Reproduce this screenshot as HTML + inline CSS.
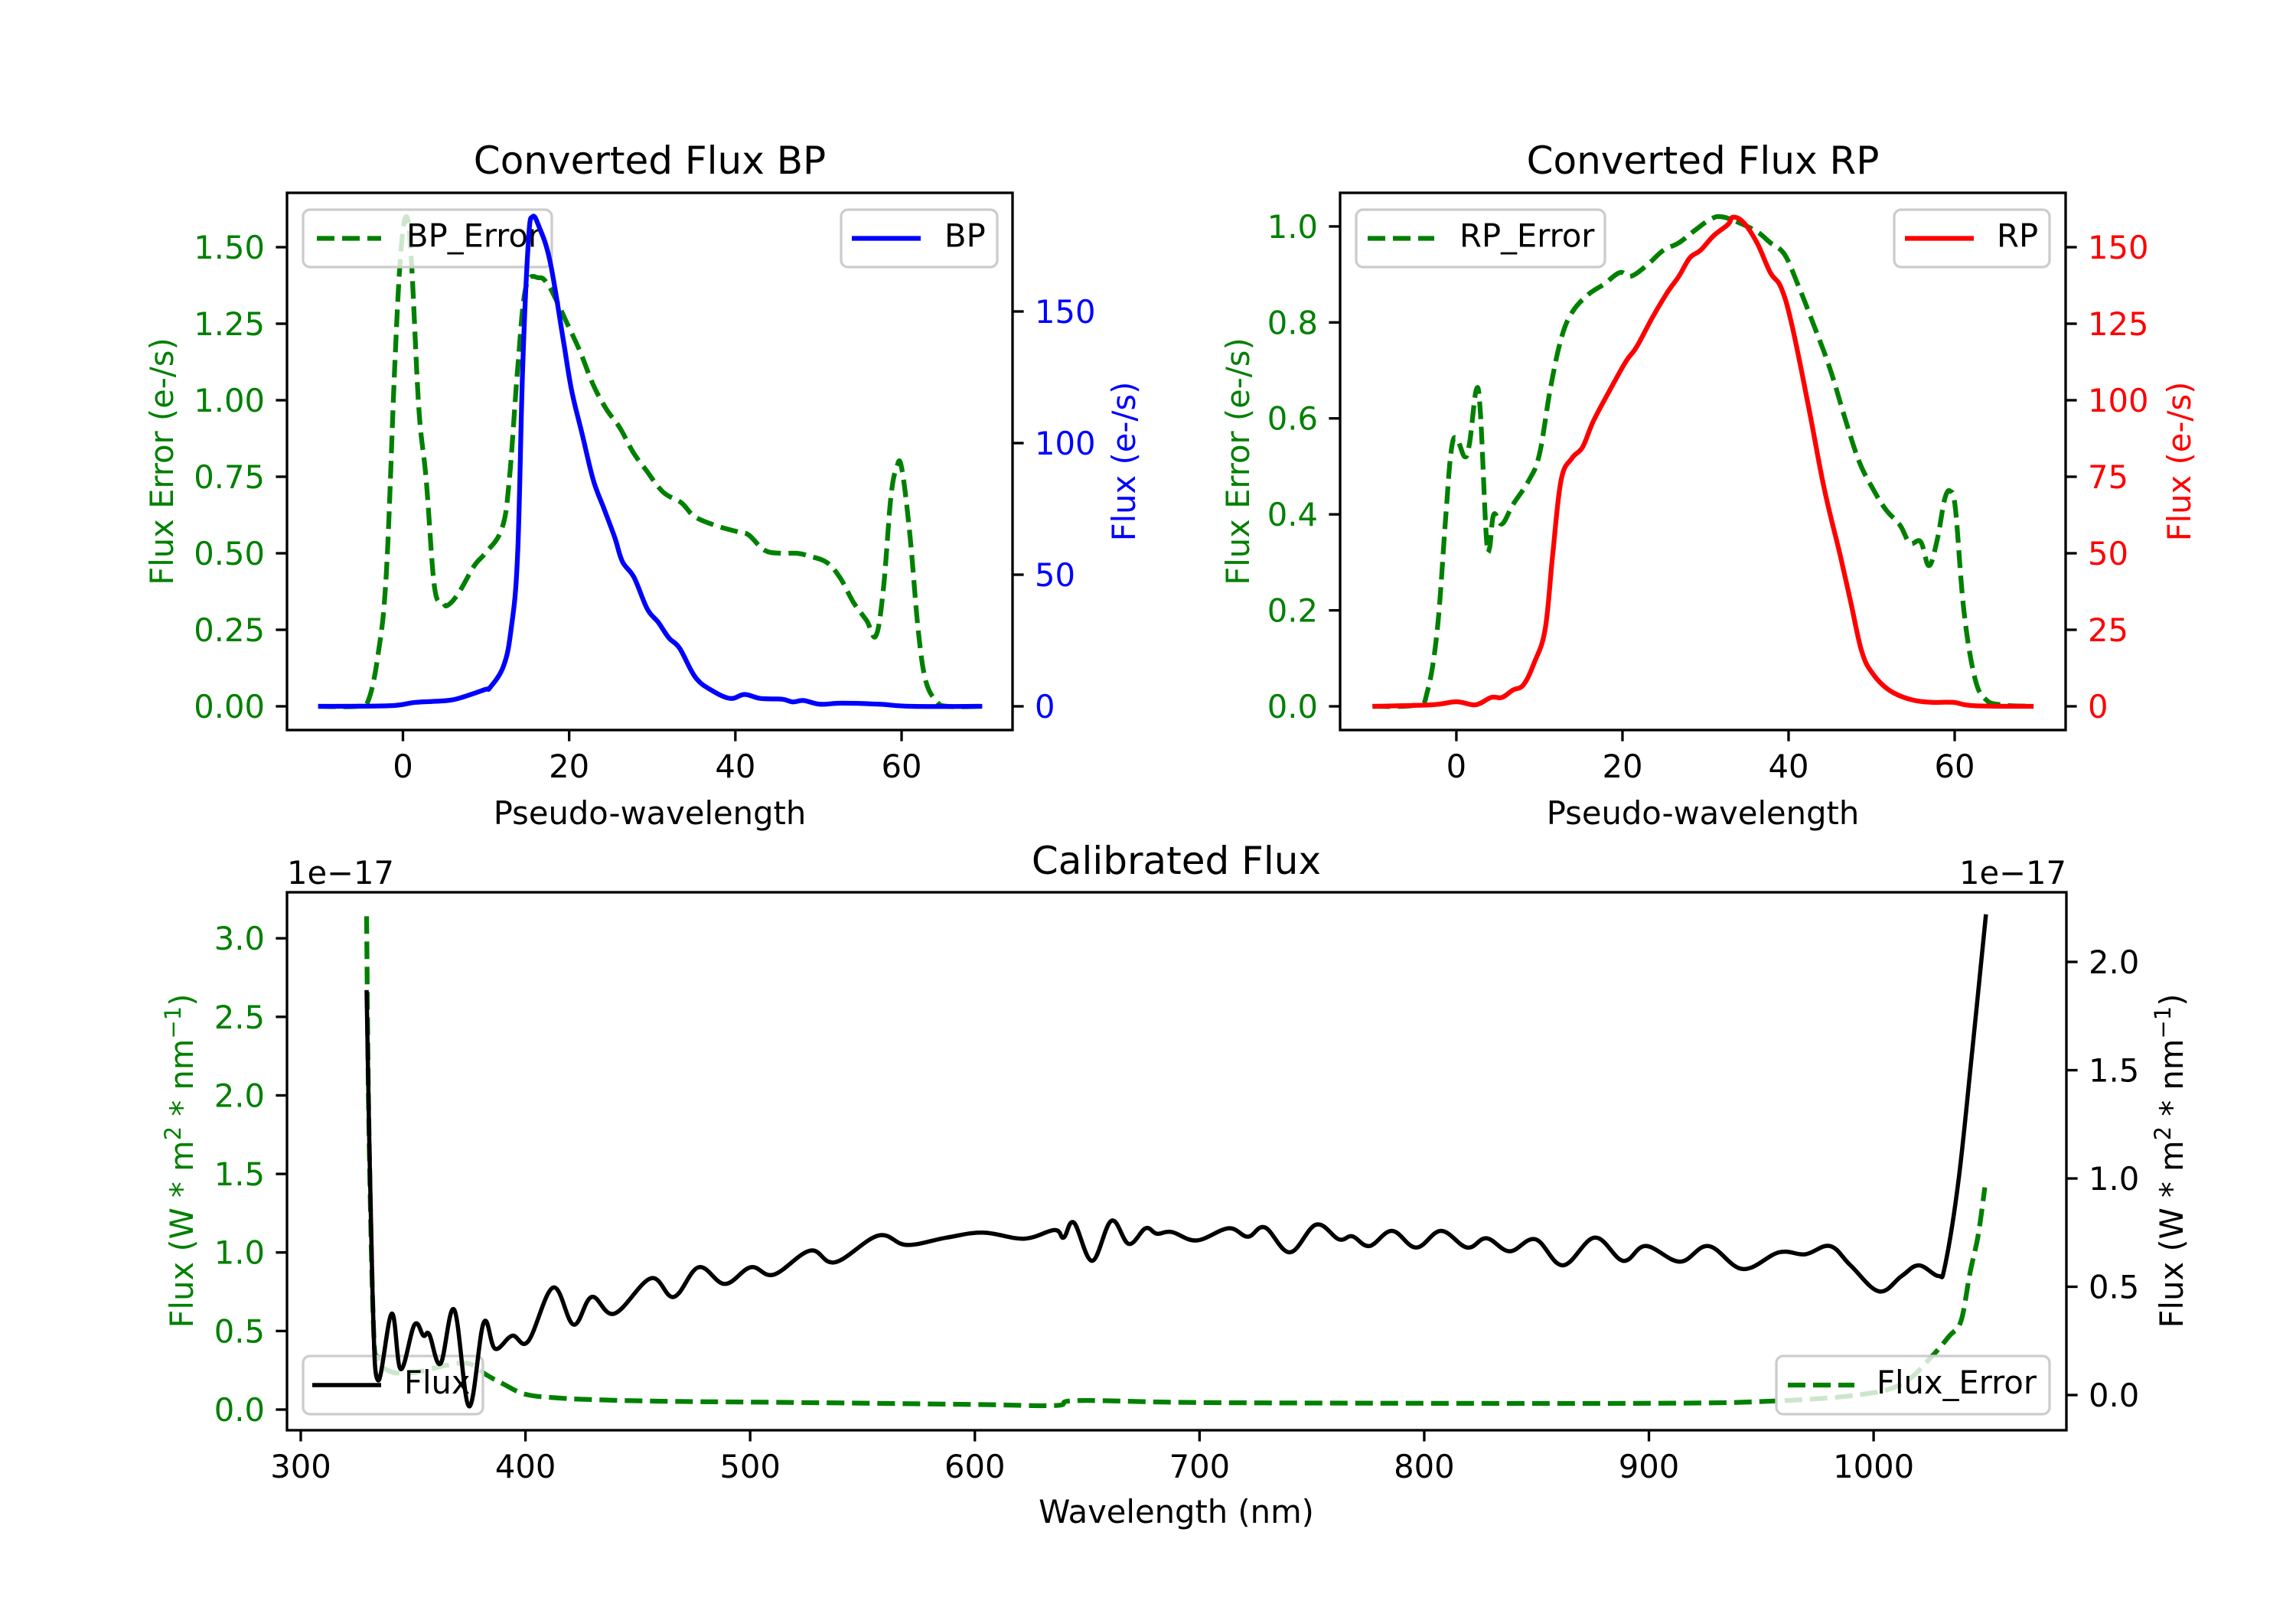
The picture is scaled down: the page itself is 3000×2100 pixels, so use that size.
<!DOCTYPE html>
<html><head><meta charset="utf-8"><style>
html,body{margin:0;padding:0;background:#fff;}
svg{display:block;font-family:"DejaVu Sans","Liberation Sans",sans-serif;}
</style></head><body>
<svg id="fig" xmlns="http://www.w3.org/2000/svg" width="3000" height="2100" viewBox="0 0 3000 2100">
<rect width="3000" height="2100" fill="#fff"/>
<defs>
<clipPath id="c1"><rect x="375" y="252" width="948" height="702"/></clipPath>
<clipPath id="c2"><rect x="1751" y="252" width="948" height="702"/></clipPath>
<clipPath id="c3"><rect x="375" y="1166" width="2325" height="703"/></clipPath>
</defs>
<g id="root"></g>
</svg>
<script>
// ---- BP panel data ----
const bpFluxX=[-10.2,-1.7,1.5,5.4,7.3,9.9,10.5,12.1,13.0,13.8,14.4,15.1,15.6,16.4,17.7,19.3,20.3,21.6,22.9,24.2,25.5,26.4,27.8,29.4,30.7,32.0,33.3,35.2,37.2,39.4,41.1,43.0,45.6,46.9,48.2,50.2,52.8,57.3,61.2,69.7];
const bpFlux=[0,0.2,1.5,2.2,3.6,6.4,7.2,15.3,29,57.6,128,177,186,182,169,139,120,103,86,75,64,55,49,37,32,26,22,11,6,3,4.5,3,2.7,1.7,2.2,0.8,1.2,0.8,0,0];
const bpErrX=[-10.2,-5.5,-4.2,-3.0,-2.0,-1.0,-0.3,0.4,1.0,1.9,2.8,3.8,4.8,5.4,6.7,8.6,9.9,11.9,12.8,13.8,14.8,16.4,17.4,18.4,19.6,21.3,22.9,24.5,26.1,27.7,29.3,31.3,33.5,35.1,37.7,40.3,41.6,43.5,45.5,47.4,49.0,51.0,52.6,54.2,55.8,56.9,57.8,58.7,59.4,60.0,61.0,62.0,62.9,64.2,65.5,69.7];
const bpErr=[0,0,0.017,0.168,0.435,1.10,1.465,1.60,1.465,0.98,0.74,0.39,0.34,0.33,0.37,0.46,0.50,0.58,0.74,1.10,1.37,1.40,1.38,1.33,1.26,1.16,1.05,0.97,0.91,0.83,0.77,0.70,0.665,0.62,0.59,0.57,0.56,0.51,0.50,0.50,0.49,0.47,0.42,0.34,0.28,0.23,0.38,0.68,0.78,0.78,0.56,0.25,0.084,0.017,0,0];
// ---- RP panel data ----
const rpFluxX=[-10.1,-2.9,0,2.3,4.2,5.5,6.8,8.1,9.4,10.7,11.6,12.6,13.9,15.2,16.5,18.4,20.4,21.7,23.6,25.5,26.8,28.1,29.4,31.0,32.7,33.3,34.6,36.2,37.8,39.1,40.4,42.4,44.3,46.2,47.5,48.8,50.1,52.1,54.6,57.2,59.8,62.4,69.5];
const rpFlux=[0,0.5,1.5,0.5,2.9,2.9,5.3,7.1,14.4,25.3,49.6,73.8,81,84.7,93.2,102.9,112.6,117.4,127,135.6,140.5,146.5,149,153.8,157.4,159.8,158,151.4,141.7,136.8,124.6,98,71,49.5,33.8,18,10.8,5.3,2.3,1.3,1.3,0.2,0];
const rpErrX=[-10.1,-4.8,-3.5,-2.3,-1.3,-0.64,0.0,1.0,1.6,2.4,2.9,3.6,4.0,4.5,5.5,6.8,8.7,10.0,11.3,12.6,13.9,15.8,17.8,19.7,21.0,23.0,24.9,26.8,28.8,30.7,32.0,34.0,36.2,37.8,39.5,41.1,43.0,45.0,46.9,48.5,50.1,51.7,53.4,54.6,55.9,56.9,57.9,58.8,59.5,60.1,61.1,62.4,63.7,65.6,69.5];
const rpErr=[0,0.003,0.03,0.16,0.39,0.53,0.56,0.52,0.55,0.66,0.61,0.355,0.33,0.40,0.38,0.42,0.47,0.525,0.66,0.765,0.82,0.857,0.88,0.904,0.896,0.92,0.95,0.966,0.993,1.016,1.02,1.008,0.989,0.966,0.942,0.88,0.796,0.703,0.594,0.51,0.455,0.41,0.378,0.34,0.343,0.293,0.347,0.432,0.448,0.41,0.20,0.061,0.015,0.003,0];
// ---- Calibrated flux data (x in nm, y in 1e-17) ----
const calWl=[329.3,331.9,334.4,340.5,344.5,350.6,354.6,357.2,362.2,368.3,374.9,381.4,386.5,394.1,401.2,412.3,421.4,429.5,439.6,455.8,466.0,477.1,488.7,500.3,510.5,526.7,537.8,557.0,569.7,587.4,603.6,621.8,635.5,639.5,644.1,652.2,660.8,668.5,676.0,681.0,687.6,698.7,712.9,721.5,729.1,740.2,751.9,762.0,768.0,775.6,785.7,796.4,807.5,819.1,827.7,838.0,849.5,861.7,875.9,888.5,898.6,913.8,926.5,941.7,957.9,969.5,980.6,989.7,1002.4,1012.5,1020.1,1028.8,1031.8,1037.8,1043.9,1050.0];
const calFlux=[1.87,0.48,0.068,0.376,0.12,0.325,0.274,0.28,0.145,0.394,-0.052,0.334,0.214,0.274,0.248,0.496,0.325,0.453,0.376,0.539,0.453,0.59,0.513,0.59,0.556,0.667,0.613,0.736,0.693,0.727,0.75,0.722,0.762,0.727,0.796,0.62,0.805,0.698,0.77,0.745,0.753,0.714,0.77,0.731,0.774,0.659,0.787,0.719,0.733,0.688,0.758,0.681,0.758,0.681,0.724,0.664,0.719,0.599,0.727,0.62,0.688,0.616,0.688,0.582,0.659,0.65,0.688,0.599,0.479,0.55,0.599,0.55,0.599,0.993,1.59,2.22];
const calErrWl=[329.3,330.3,332.4,334.4,339.4,349.6,364.8,374.9,382.5,390.1,400.2,415.4,435.6,466.0,521.6,597.5,635.5,645.6,698.7,799.9,901.1,951.9,992.4,1012.5,1025.2,1033.8,1038.9,1042.9,1046.5,1049.5];
const calErr=[3.14,1.815,0.517,0.328,0.245,0.234,0.281,0.293,0.222,0.163,0.097,0.073,0.061,0.052,0.045,0.033,0.026,0.057,0.045,0.04,0.04,0.052,0.092,0.163,0.328,0.47,0.564,0.871,1.107,1.414];
// ---- ticks ----
const pwTicks=[0,20,40,60];
const bpErrTicks=["0.00","0.25","0.50","0.75","1.00","1.25","1.50"];
const bpFluxTicks=[0,50,100,150];
const rpErrTicks=["0.0","0.2","0.4","0.6","0.8","1.0"];
const rpFluxTicks=[0,25,50,75,100,125,150];
const wlTicks=[300,400,500,600,700,800,900,1000];
const calLTicks=["0.0","0.5","1.0","1.5","2.0","2.5","3.0"];
const calRTicks=["0.0","0.5","1.0","1.5","2.0"];

const NS="http://www.w3.org/2000/svg";
const root=document.getElementById('root');
function el(tag,attrs,parent,text){const e=document.createElementNS(NS,tag);for(const k in attrs)e.setAttribute(k,attrs[k]);if(text!==undefined)e.textContent=text;(parent||root).appendChild(e);return e;}
function lin(d0,d1,p0,p1){return v=>p0+(v-d0)*(p1-p0)/(d1-d0);}
const FS=41.67;

const A1={x0:375,x1:1323,y0:252,y1:954,sx:lin(-13.95,73.35,375,1323),sl:lin(-0.0775,1.6775,954,252),sr:lin(-9.01,195.06,954,252),clip:'c1'};
const A2={x0:1751,x1:2699,y0:252,y1:954,sx:lin(-14.0,73.36,1751,2699),sl:lin(-0.0494,1.070,954,252),sr:lin(-7.75,167.75,954,252),clip:'c2'};
const A3={x0:375,x1:2700,y0:1166,y1:1869,sx:lin(293.87,1085.8,375,2700),sl:lin(-0.1315,3.293,1869,1166),sr:lin(-0.1625,2.3216,1869,1166),clip:'c3'};

function path(ax,xs,ys,sy,color,w,dash,name){
  const P=xs.map((x,i)=>[ax.sx(x),sy(ys[i])]);
  let d='M'+P[0][0].toFixed(1)+','+P[0][1].toFixed(1);
  const t=0.18;
  for(let i=0;i<P.length-1;i++){
    const p0=P[Math.max(i-1,0)],p1=P[i],p2=P[i+1],p3=P[Math.min(i+2,P.length-1)];
    const c1x=p1[0]+(p2[0]-p0[0])*t,c1y=p1[1]+(p2[1]-p0[1])*t;
    const c2x=p2[0]-(p3[0]-p1[0])*t,c2y=p2[1]-(p3[1]-p1[1])*t;
    d+='C'+c1x.toFixed(1)+','+c1y.toFixed(1)+' '+c2x.toFixed(1)+','+c2y.toFixed(1)+' '+p2[0].toFixed(1)+','+p2[1].toFixed(1);
  }
  const p=el('path',{d:d,fill:'none',stroke:color,'stroke-width':w,'stroke-linejoin':'round','clip-path':'url(#'+ax.clip+')'});
  if(dash)p.setAttribute('stroke-dasharray',dash);
  
  
  return p;
}
function legend(x0,y0,x1,y1,hx0,hx1,tx,label,color,dash,w,name){
  const g=el('g',{});
  
  
  el('rect',{x:x0,y:y0,width:x1-x0,height:y1-y0,rx:9,fill:'#fff','fill-opacity':0.8,stroke:'#cccccc','stroke-width':3.3},g);
  const yc=(y0+y1)/2;
  const l=el('line',{x1:hx0,y1:yc,x2:hx1,y2:yc,stroke:color,'stroke-width':w},g);
  if(dash)l.setAttribute('stroke-dasharray',dash);
  el('text',{x:tx,y:yc+11,'font-size':FS,fill:'#000'},g,label);
}
function frame(ax,name){
  const r=el('rect',{x:ax.x0,y:ax.y0,width:ax.x1-ax.x0,height:ax.y1-ax.y0,fill:'none',stroke:'#000','stroke-width':3.33});
  
  
}
function xticks(ax,ticks,name){
  const g=el('g',{});
  
  
  ticks.forEach(t=>{const x=ax.sx(+t);el('line',{x1:x,y1:ax.y1,x2:x,y2:ax.y1+14.6,stroke:'#000','stroke-width':3.33},g);
    el('text',{x:x,y:ax.y1+62,'font-size':FS,'text-anchor':'middle',fill:'#000'},g,String(t));});
}
function yticks(ax,ticks,sy,side,color,name){
  const g=el('g',{});
  
  
  ticks.forEach(t=>{const y=sy(+t);
    if(side==='l'){el('line',{x1:ax.x0-14.6,y1:y,x2:ax.x0,y2:y,stroke:'#000','stroke-width':3.33},g);
      el('text',{x:ax.x0-29,y:y+15,'font-size':FS,'text-anchor':'end',fill:color},g,String(t));}
    else{el('line',{x1:ax.x1,y1:y,x2:ax.x1+14.6,y2:y,stroke:'#000','stroke-width':3.33},g);
      el('text',{x:ax.x1+29,y:y+15,'font-size':FS,'text-anchor':'start',fill:color},g,String(t));}
  });
}
function vlabel(x,y,text,color,name){
  const t=el('text',{x:x,y:y,'font-size':FS,'text-anchor':'middle',fill:color,transform:'rotate(-90 '+x+' '+y+')'},root,text);
  
  
  return t;
}
function htext(x,y,text,size,anchor,name){
  const t=el('text',{x:x,y:y,'font-size':size,'text-anchor':anchor,fill:'#000'},root,text);
  
  
  return t;
}
const DASH='23,10';

// ===== BP panel =====
path(A1,bpErrX,bpErr,A1.sl,'#008000',6.25,DASH,'bp-error-line');
legend(396,274,721,349,414,498,531,'BP_Error','#008000',DASH,6.25,'bp-error-legend');
path(A1,bpFluxX,bpFlux,A1.sr,'#0000ff',6.25,null,'bp-flux-line');
legend(1099,274,1303,349,1113,1203,1234,'BP','#0000ff',null,6.25,'bp-legend');
frame(A1,'bp-axes-frame');
xticks(A1,pwTicks,'bp-x-ticks');
yticks(A1,bpErrTicks,A1.sl,'l','#008000','bp-left-ticks');
yticks(A1,bpFluxTicks,A1.sr,'r','#0000ff','bp-right-ticks');
htext(849,227,'Converted Flux BP',50,'middle','bp-title');
htext(849,1077,'Pseudo-wavelength',FS,'middle','bp-x-title');
vlabel(226,603,'Flux Error (e-/s)','#008000','bp-left-y-title');
vlabel(1483,603,'Flux (e-/s)','#0000ff','bp-right-y-title');

// ===== RP panel =====
path(A2,rpErrX,rpErr,A2.sl,'#008000',6.25,DASH,'rp-error-line');
legend(1772,274,2097,349,1787,1874,1907,'RP_Error','#008000',DASH,6.25,'rp-error-legend');
path(A2,rpFluxX,rpFlux,A2.sr,'#ff0000',6.25,null,'rp-flux-line');
legend(2475,274,2678,349,2489,2579,2609,'RP','#ff0000',null,6.25,'rp-legend');
frame(A2,'rp-axes-frame');
xticks(A2,pwTicks,'rp-x-ticks');
yticks(A2,rpErrTicks,A2.sl,'l','#008000','rp-left-ticks');
yticks(A2,rpFluxTicks,A2.sr,'r','#ff0000','rp-right-ticks');
htext(2225,227,'Converted Flux RP',50,'middle','rp-title');
htext(2225,1077,'Pseudo-wavelength',FS,'middle','rp-x-title');
vlabel(1632,603,'Flux Error (e-/s)','#008000','rp-left-y-title');
vlabel(2862,603,'Flux (e-/s)','#ff0000','rp-right-y-title');

// ===== Calibrated panel =====
path(A3,calErrWl,calErr,A3.sl,'#008000',6.25,DASH,'flux-error-line');
legend(396,1772,631,1848,408,498,528,'Flux','#000000',null,5.5,'flux-legend');
legend(2321,1772,2678,1848,2336,2423,2452,'Flux_Error','#008000',DASH,6.25,'flux-error-legend');
path(A3,calWl,calFlux,A3.sr,'#000000',5.5,null,'flux-line');
frame(A3,'cal-axes-frame');
xticks(A3,wlTicks,'cal-x-ticks');
yticks(A3,calLTicks,A3.sl,'l','#008000','cal-left-ticks');
yticks(A3,calRTicks,A3.sr,'r','#000000','cal-right-ticks');
htext(1537,1142,'Calibrated Flux',50,'middle','cal-title');
htext(1537,1990,'Wavelength (nm)',FS,'middle','cal-x-title');
htext(375,1155,'1e\u221217',FS,'start','cal-left-offset-text');
htext(2700,1155,'1e\u221217',FS,'end','cal-right-offset-text');
function supLabel(x,y,color,name){
  const t=el('text',{x:x,y:y,'font-size':FS,'text-anchor':'middle',fill:color,transform:'rotate(-90 '+x+' '+y+')'});
  
  
  el('tspan',{},t,'Flux (W * m');
  el('tspan',{'font-size':29,dy:-16},t,'2');
  el('tspan',{dy:16},t,' * nm');
  el('tspan',{'font-size':29,dy:-16},t,'\u22121');
  el('tspan',{dy:16},t,')');
}
supLabel(252,1517,'#008000','cal-left-y-title');
supLabel(2852,1517,'#000000','cal-right-y-title');
</script>
</body></html>
